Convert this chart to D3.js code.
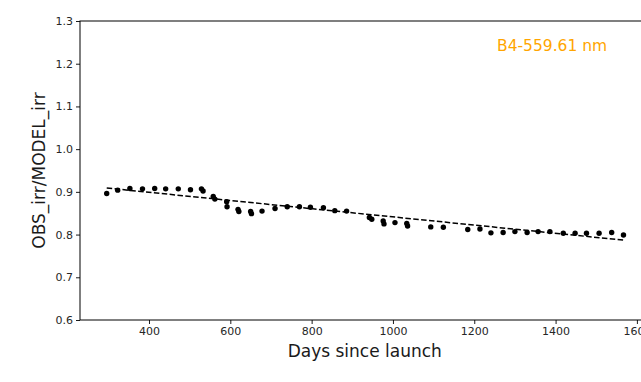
<!DOCTYPE html>
<html>
<head>
<meta charset="utf-8">
<script src="https://cdn.jsdelivr.net/npm/d3@7"></script>
<style>
  body { margin: 0; background: #fff; }
  svg { display: block; font-family: "DejaVu Sans", sans-serif; }
</style>
</head>
<body>
<svg id="chart" width="641" height="382"></svg>
<script>
var days = [296, 323, 353, 384, 414, 441, 472, 502, 529, 533, 558, 562,
	591, 592, 619, 621, 650, 652, 678, 710, 740, 770, 797, 829, 857, 886,
	942, 948, 976, 978, 1005, 1034, 1036, 1093, 1124, 1184, 1214, 1241,
	1271, 1300, 1330, 1357, 1386, 1419, 1448, 1476, 1507, 1538, 1567];
var ratios = [0.896, 0.904, 0.908, 0.907, 0.908, 0.907, 0.907, 0.905, 0.907, 0.902, 0.889, 0.883,
	0.877, 0.865, 0.859, 0.854, 0.854, 0.849, 0.855, 0.861, 0.865, 0.865, 0.864, 0.863, 0.856, 0.855,
	0.840, 0.836, 0.832, 0.825, 0.828, 0.826, 0.820, 0.818, 0.817, 0.812, 0.813, 0.804,
	0.805, 0.807, 0.805, 0.807, 0.807, 0.803, 0.803, 0.803, 0.803, 0.805, 0.799];
// linear fit endpoints
var trendDays = [296, 1567];
var trendRatios = [0.909, 0.787];

var xTicks = [400, 600, 800, 1000, 1200, 1400, 1600];
var yTicks = [0.6, 0.7, 0.8, 0.9, 1.0, 1.1, 1.2, 1.3];
var bandLabel = "B4-559.61 nm";

function drawChart() {
	var svg = d3.select("#chart"),
		m = { left: 80, top: 21, right: 649.5, bottom: 320 };

	var xscale = d3.scaleLinear().domain([230.3, 1631]).range([m.left, m.right]);
	var yscale = d3.scaleLinear().domain([0.6, 1.3]).range([m.bottom, m.top]);

	var xaxis = d3.axisBottom(xscale).tickValues(xTicks)
		.tickSize(4).tickPadding(3).tickFormat(d3.format("d"));
	var yaxis = d3.axisLeft(yscale).tickValues(yTicks)
		.tickSize(4).tickPadding(3).tickFormat(d3.format(".1f"));

	var gx = svg.append("g").attr("transform", "translate(0," + m.bottom + ")").call(xaxis);
	var gy = svg.append("g").attr("transform", "translate(" + m.left + ",0)").call(yaxis);

	[gx, gy].forEach(function (g) {
		g.select(".domain").remove();
		g.selectAll("line").attr("stroke", "#000").attr("stroke-width", 0.9);
		g.selectAll("text").attr("fill", "#262626")
			.style("font-size", "11px")
			.style("font-family", "DejaVu Sans");
	});

	// frame (right side falls outside the picture, like the original crop)
	svg.append("rect")
		.attr("x", m.left).attr("y", m.top)
		.attr("width", m.right - m.left).attr("height", m.bottom - m.top)
		.attr("fill", "none").attr("stroke", "#000").attr("stroke-width", 1);

	var line = d3.line()
		.x(function (d) { return xscale(d[0]); })
		.y(function (d) { return yscale(d[1]); });

	svg.append("path")
		.datum(d3.zip(trendDays, trendRatios))
		.attr("d", line)
		.attr("fill", "none")
		.attr("stroke", "#000")
		.attr("stroke-width", 1.5)
		.attr("stroke-dasharray", "5.5,2.4");

	svg.selectAll(".pt")
		.data(d3.zip(days, ratios))
		.enter().append("circle")
		.attr("class", "pt")
		.attr("cx", function (d) { return xscale(d[0]); })
		.attr("cy", function (d) { return yscale(d[1]); })
		.attr("r", 2.7)
		.attr("fill", "#000");

	svg.append("text")
		.attr("x", 497).attr("y", 51)
		.attr("fill", "orange")
		.style("font-size", "15.5px")
		.text(bandLabel);

	svg.append("text")
		.attr("x", (m.left + m.right) / 2).attr("y", 357)
		.attr("text-anchor", "middle")
		.attr("fill", "#1a1a1a")
		.style("font-size", "17px")
		.text("Days since launch");

	svg.append("text")
		.attr("transform", "translate(45," + (m.top + m.bottom) / 2 + ") rotate(-90)")
		.attr("text-anchor", "middle")
		.attr("fill", "#1a1a1a")
		.style("font-size", "17px")
		.text("OBS_irr/MODEL_irr");
}

drawChart();
</script>
</body>
</html>
